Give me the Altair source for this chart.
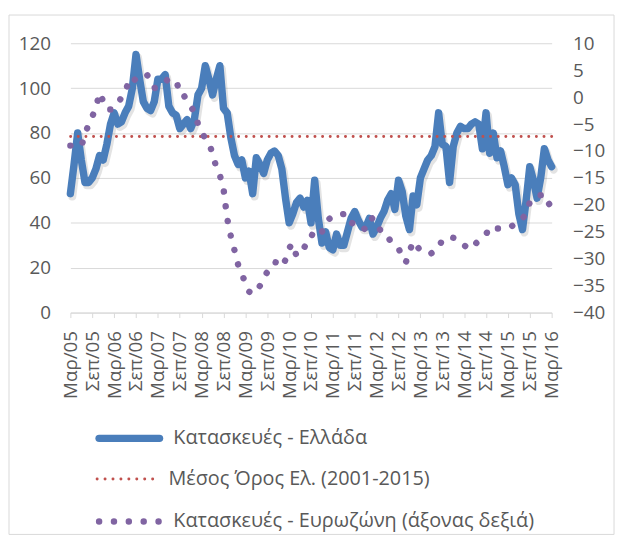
import altair as alt
import pandas as pd

x_labels = ["Μαρ/05", "Σεπ/05", "Μαρ/06", "Σεπ/06", "Μαρ/07", "Σεπ/07", "Μαρ/08", "Σεπ/08",
            "Μαρ/09", "Σεπ/09", "Μαρ/10", "Σεπ/10", "Μαρ/11", "Σεπ/11", "Μαρ/12", "Σεπ/12",
            "Μαρ/13", "Σεπ/13", "Μαρ/14", "Σεπ/14", "Μαρ/15", "Σεπ/15", "Μαρ/16"]

greece = [53, 66, 80, 68, 58, 58, 60, 64, 70, 68,
          75, 84, 89, 84, 85, 89, 92, 100, 115, 104,
          94, 91, 90, 94, 104, 104, 106, 92, 89, 88,
          82, 84, 86, 82, 86, 97, 100, 110, 104, 97,
          104, 110, 91, 89, 78, 70, 66, 68, 60, 63,
          53, 69, 66, 62, 68, 71, 72, 70, 64, 51,
          40, 44, 49, 51, 47, 50, 40, 59, 42, 31,
          36, 29, 28, 35, 30, 30, 36, 42, 45, 41,
          38, 38, 42, 35, 38, 42, 45, 50, 53, 46,
          59, 54, 43, 37, 52, 48, 60, 64, 68, 70,
          74, 89, 75, 74, 58, 74, 80, 83, 82, 82,
          84, 85, 84, 73, 89, 71, 80, 69, 72, 65,
          57, 60, 57, 44, 37, 50, 65, 59, 51, 60, 73, 68, 65]

eurozone = [-9.0, -9.0, -9.0, -9.1, -7.0, -5.0, -3.6, -2.0, 0.8, -0.8,
            -2.3, -2.3, -2.0, -1.3, 0.0, 0.8, 3.0, 2.5, 3.6, 4.0,
            4.0, 4.2, 3.0, 1.7, 1.8, 2.2, 2.8, 3.5, 3.0, 2.1,
            2.3, 0.5, -0.8, -1.8, -2.7, -5.0, -6.5, -7.7, -8.5, -10.5,
            -13.0, -14.5, -17.0, -22.5, -25.8, -28.4, -31.1, -32.8, -34.5, -36.1,
            -36.5, -36.2, -35.0, -33.4, -32.5, -31.9, -30.6, -30.8, -31.5, -30.2,
            -28.0, -27.2, -29.5, -29.0, -28.1, -26.8, -25.5, -25.8, -26.2, -25.0,
            -23.5, -22.6, -22.2, -21.8, -21.8, -21.7, -21.7, -23.3, -23.6, -23.4,
            -24.2, -24.6, -22.9, -22.4, -23.5, -24.7, -24.8, -25.8, -27.0, -27.5,
            -28.1, -29.5, -30.7, -28.7, -26.8, -27.5, -28.6, -28.7, -28.9, -29.0,
            -28.5, -28.1, -26.4, -26.2, -26.1, -26.1, -26.3, -26.7, -27.5, -28.0,
            -28.2, -27.3, -26.6, -26.0, -25.5, -24.1, -24.3, -24.4, -24.4, -24.3,
            -24.3, -24.0, -23.5, -23.3, -22.5, -21.7, -19.5, -18.8, -18.3, -18.2, -18.0, -19.5, -20.6]

greece_avg = [78.5]

legend_labels = ["Κατασκευές  - Ελλάδα",
                 "Μέσος Όρος Ελ. (2001-2015)",
                 "Κατασκευές - Ευρωζώνη (άξονας δεξιά)"]

left_ticks = [0, 20, 40, 60, 80, 100, 120]
right_ticks = [-40, -35, -30, -25, -20, -15, -10, -5, 0, 5, 10]

df = pd.DataFrame({"m": list(range(len(greece))), "greece": greece, "eurozone": eurozone})
avg_df = pd.DataFrame({"greece": greece_avg})
one = pd.DataFrame({"k": [0]})

GRID = "#d9d9d9"
TXT = "#595959"
FONT = "Open Sans"
BLUE = "#4A7EBB"
RED = "#C0504D"
PURPLE = "#8064A2"
FS = 19
LFS = 20

label_expr = "[" + ",".join("'" + s + "'" for s in x_labels) + "][round(datum.value/6)]"

x_enc = alt.X("m:Q",
              scale=alt.Scale(domain=[0, len(greece) - 1], nice=False, zero=False),
              axis=alt.Axis(values=list(range(0, len(greece), 6)), labelExpr=label_expr,
                            labelAngle=-90, tickSize=5, tickColor=GRID, domainColor=GRID,
                            grid=False, labelFontSize=FS, labelColor=TXT, labelFont=FONT,
                            labelPadding=13, labelOverlap=False, labelBound=False, title=""))

left_axis = alt.Axis(values=left_ticks, orient="left", domain=False, ticks=False, grid=True,
                     gridColor=GRID, labelPadding=20, labelFontSize=FS, labelColor=TXT,
                     labelFont=FONT, title="")
left_scale = alt.Scale(domain=[0, 120], nice=False)

shadow = alt.Chart(df).mark_line(color="#808080", opacity=0.22, strokeWidth=8, xOffset=2, yOffset=3,
                                 strokeCap="round", strokeJoin="round").encode(
    x=x_enc, y=alt.Y("greece:Q", scale=left_scale, axis=left_axis))

gr_line = alt.Chart(df).mark_line(color=BLUE, strokeWidth=7.5, strokeCap="round",
                                  strokeJoin="round").encode(
    x=x_enc, y=alt.Y("greece:Q", scale=left_scale, axis=left_axis))

avg_rule = alt.Chart(avg_df).mark_rule(color=RED, strokeWidth=3, strokeDash=[0.01, 7.7],
                                       strokeCap="round").encode(
    y=alt.Y("greece:Q", scale=left_scale, axis=left_axis))

left = alt.layer(shadow, gr_line, avg_rule)

ez_line = alt.Chart(df).mark_line(color=PURPLE, strokeWidth=6.5, strokeDash=[0.01, 15],
                                  strokeCap="round", strokeJoin="round").encode(
    x=x_enc,
    y=alt.Y("eurozone:Q", scale=alt.Scale(domain=[-40, 10], nice=False),
            axis=alt.Axis(values=right_ticks, orient="right", domain=False, ticks=False,
                          grid=False, labelPadding=21, labelFontSize=FS, labelColor=TXT,
                          labelFont=FONT, title="")))

border = alt.Chart(one).mark_rect(fillOpacity=0, stroke=GRID, strokeWidth=1).encode(
    x=alt.value(-62), x2=alt.value(549), y=alt.value(-28.5), y2=alt.value(496))

leg1 = alt.Chart(one).mark_rule(color=BLUE, strokeWidth=7.5, strokeCap="round").encode(
    x=alt.value(29), x2=alt.value(90), y=alt.value(399))
leg2 = alt.Chart(one).mark_rule(color=RED, strokeWidth=3, strokeDash=[0.01, 8],
                                strokeCap="round").encode(
    x=alt.value(27), x2=alt.value(84), y=alt.value(440))
leg3 = alt.Chart(one).mark_rule(color=PURPLE, strokeWidth=6.5, strokeDash=[0.01, 15],
                                strokeCap="round").encode(
    x=alt.value(29), x2=alt.value(90), y=alt.value(483))

def leg_text(txt, x, y):
    return alt.Chart(one).mark_text(align="left", baseline="middle", fontSize=LFS, font=FONT,
                                    color=TXT).encode(
        x=alt.value(x), y=alt.value(y), text=alt.value(txt))

t1 = leg_text(legend_labels[0], 104, 399)
t2 = leg_text(legend_labels[1], 99, 440)
t3 = leg_text(legend_labels[2], 104, 483)

chart = alt.layer(border, left, ez_line, leg1, leg2, leg3, t1, t2, t3).resolve_scale(
    y="independent"
).properties(
    width=486, height=272,
    autosize=alt.AutoSizeParams(type="none"),
    padding={"left": 63, "top": 33, "right": 67, "bottom": 225},
    background="white",
).configure_view(strokeWidth=0)

chart.save("out.html", embed_options={"renderer": "svg", "actions": False})
